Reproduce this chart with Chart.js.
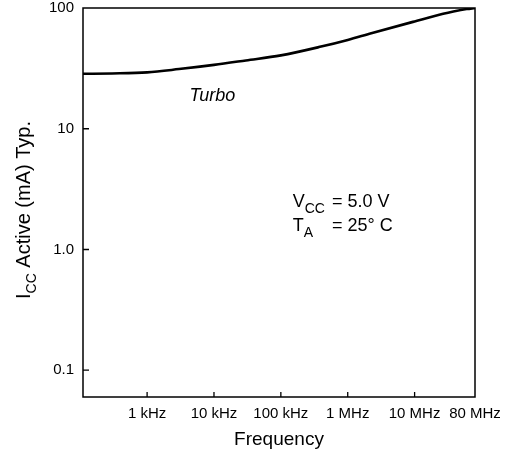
<!DOCTYPE html>
<html><head><meta charset="utf-8">
<script src="https://cdn.jsdelivr.net/npm/chart.js@4.4.1/dist/chart.umd.min.js"></script>
<style>html,body{margin:0;padding:0;background:#fff}#wrap{width:509px;height:458px}</style>
</head><body><div id="wrap"><canvas id="c" width="509" height="458"></canvas></div>
<script>
// ---- data ----
const freqHz = [110, 300, 1e3, 3e3, 1e4, 3e4, 1e5, 4e5, 1e6, 2.25e6, 1e7, 2.67e7, 3.8e7, 6e7, 8e7];
const iccTurbo = [28.5, 28.7, 29.3, 31.2, 33.8, 36.8, 40.5, 47.9, 54.4, 61.8, 77.4, 89.5, 93.5, 98, 100];
const xTickValues = [1e3, 1e4, 1e5, 1e6, 1e7, 8e7];
const xTickLabels = ['1 kHz', '10 kHz', '100 kHz', '1 MHz', '10 MHz', '80 MHz'];
const yTickValues = [0.1, 1, 10, 100];
const yTickLabels = ['0.1', '1.0', '10', '100'];
const seriesLabel = 'Turbo';
const xTitle = 'Frequency';
const yTitleParts = [['I', 0], ['CC', 1], [' Active (mA) Typ.', 0]];
const noteLines = [
  [['V', 0], ['CC', 1], ['= 5.0 V', 0, true]],
  [['T', 0], ['A', 1], ['= 25\u00B0 C', 0, true]]
];

const FAM = '"Liberation Sans", Arial, Helvetica, sans-serif';

function drawParts(ctx, parts, x, y, size, subSize, eqX) {
  let cx = x;
  for (const [t, sub, atEq] of parts) {
    if (atEq && eqX !== undefined) cx = eqX;
    ctx.font = (sub ? subSize : size) + 'px ' + FAM;
    ctx.fillText(t, cx, sub ? y + 6 : y);
    cx += ctx.measureText(t).width;
  }
}
function partsWidth(ctx, parts, size, subSize) {
  let w = 0;
  for (const [t, sub] of parts) { ctx.font = (sub ? subSize : size) + 'px ' + FAM; w += ctx.measureText(t).width; }
  return w;
}

const decor = {
  id: 'decor',
  afterDraw(chart) {
    const ctx = chart.ctx, a = chart.chartArea;
    const xs = chart.scales.x, ys = chart.scales.y;
    ctx.save();
    ctx.strokeStyle = '#000'; ctx.fillStyle = '#000';
    ctx.lineWidth = 1.5;
    ctx.strokeRect(a.left, a.top, a.right - a.left, a.bottom - a.top);
    ctx.lineWidth = 1.3;
    ctx.beginPath();
    for (const v of xTickValues) {
      const px = xs.getPixelForValue(v);
      if (px > a.left + 1 && px < a.right - 1) { ctx.moveTo(px, a.bottom); ctx.lineTo(px, a.bottom - 5); }
    }
    for (const v of yTickValues) {
      const py = ys.getPixelForValue(v);
      if (py > a.top + 1 && py < a.bottom - 1) { ctx.moveTo(a.left, py); ctx.lineTo(a.left + 6, py); }
    }
    ctx.stroke();

    // series label
    ctx.font = 'italic 18px ' + FAM;
    ctx.textBaseline = 'alphabetic';
    ctx.textAlign = 'left';
    ctx.fillText(seriesLabel, xs.getPixelForValue(4.3e3), ys.getPixelForValue(17));

    // conditions note
    const nx = xs.getPixelForValue(1.5e5);
    const eqX = xs.getPixelForValue(5.8e5);
    drawParts(ctx, noteLines[0], nx, ys.getPixelForValue(2.25), 18, 14, eqX);
    drawParts(ctx, noteLines[1], nx, ys.getPixelForValue(1.43), 18, 14, eqX);

    // x title
    ctx.font = '19px ' + FAM;
    ctx.textAlign = 'center';
    ctx.fillText(xTitle, (a.left + a.right) / 2, 445);

    // y title (rotated, with subscript)
    ctx.textAlign = 'left';
    ctx.translate(30, 210);
    ctx.rotate(-Math.PI / 2);
    const w = partsWidth(ctx, yTitleParts, 20, 14);
    drawParts(ctx, yTitleParts, -w / 2, 0, 20, 14);
    ctx.restore();
  }
};

new Chart(document.getElementById('c'), {
  type: 'line',
  data: {
    datasets: [{
      label: seriesLabel,
      data: freqHz.map((f, i) => ({ x: f, y: iccTurbo[i] })),
      borderColor: '#000',
      borderWidth: 2.6,
      pointRadius: 0,
      fill: false,
      cubicInterpolationMode: 'monotone'
    }]
  },
  options: {
    responsive: false,
    animation: false,
    layout: { padding: { left: 0, right: 34, top: 8, bottom: 0 } },
    plugins: { legend: { display: false }, tooltip: { enabled: false } },
    scales: {
      x: {
        type: 'logarithmic', min: 110, max: 8e7,
        grid: { display: false, drawTicks: false },
        border: { display: false },
        afterBuildTicks: s => { s.ticks = xTickValues.map(v => ({ value: v })); },
        afterFit: s => { s.height = 61; s.paddingLeft = 0; s.paddingRight = 0; },
        ticks: {
          autoSkip: false, maxRotation: 0, color: '#000', padding: 8,
          font: { family: FAM, size: 15 },
          callback: v => { const i = xTickValues.indexOf(v); return i >= 0 ? xTickLabels[i] : ''; }
        }
      },
      y: {
        type: 'logarithmic', min: 0.06, max: 100,
        grid: { display: false, drawTicks: false },
        border: { display: false },
        afterBuildTicks: s => { s.ticks = yTickValues.map(v => ({ value: v })); },
        afterFit: s => { s.width = 83; s.paddingTop = 0; s.paddingBottom = 0; },
        ticks: {
          color: '#000', padding: 9,
          font: { family: FAM, size: 15 },
          callback: v => { const i = yTickValues.indexOf(v); return i >= 0 ? yTickLabels[i] : ''; }
        }
      }
    }
  },
  plugins: [decor]
});
</script>
</body></html>
